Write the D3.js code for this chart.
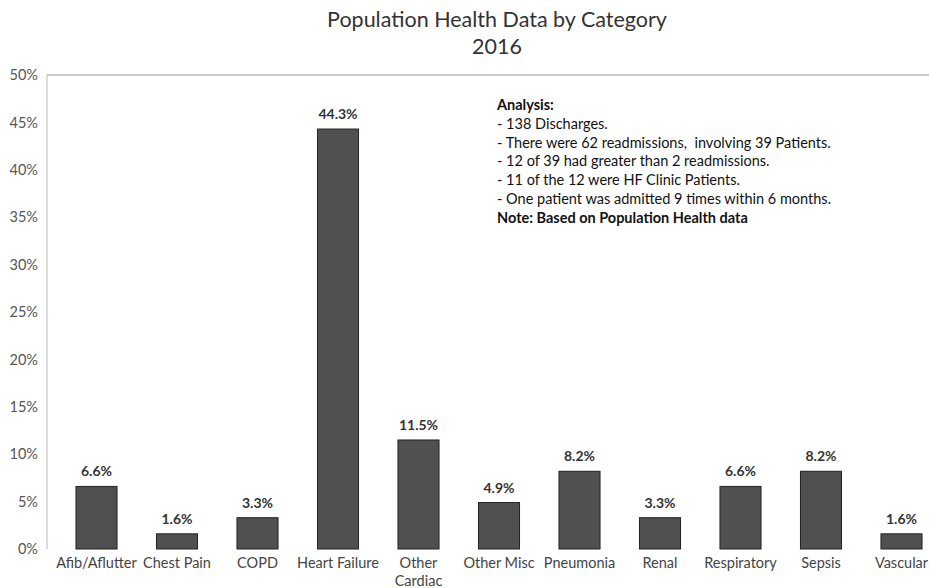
<!DOCTYPE html>
<html>
<head>
<meta charset="utf-8">
<script src="https://cdn.jsdelivr.net/npm/d3@7"></script>
<style>
  body { margin: 0; background: #fff; }
  text { font-family: Lato, "Open Sans", sans-serif; }
</style>
</head>
<body>
<div id="chart"></div>
<script>
const categories = ["Afib/Aflutter", "Chest Pain", "COPD", "Heart Failure", "Other Cardiac",
    "Other Misc", "Pneumonia", "Renal", "Respiratory", "Sepsis", "Vascular"];
const values = [6.6, 1.6, 3.3, 44.3, 11.5, 4.9, 8.2, 3.3, 6.6, 8.2, 1.6];
const yTicks = [0, 5, 10, 15, 20, 25, 30, 35, 40, 45, 50];
const notes = [
    "- 138 Discharges.",
    "- There were 62 readmissions,  involving 39 Patients.",
    "- 12 of 39 had greater than 2 readmissions.",
    "- 11 of the 12 were HF Clinic Patients.",
    "- One patient was admitted 9 times within 6 months."
];

const margin = {top: 75, right: -22, bottom: 39, left: 47},
    width = 929 - margin.left - margin.right,
    height = 588 - margin.top - margin.bottom;

const root = d3.select("#chart")
    .append("svg")
    .attr("width", 929)
    .attr("height", 588);

const svg = root.append("g")
    .attr("transform", `translate(${margin.left},${margin.top})`);

const x = d3.scaleBand()
    .domain(categories)
    .range([0, width])
    .paddingInner(0.49)
    .paddingOuter(0.36);

const y = d3.scaleLinear()
    .domain([0, 50])
    .range([height, 0]);

// title
root.append("text")
    .attr("x", 497).attr("y", 27)
    .attr("text-anchor", "middle")
    .attr("font-size", 21.5)
    .attr("fill", "#333")
    .text("Population Health Data by Category");
root.append("text")
    .attr("x", 497).attr("y", 54)
    .attr("text-anchor", "middle")
    .attr("font-size", 21.5)
    .attr("fill", "#333")
    .text("2016");

// frame lines
svg.append("line")
    .attr("x1", 0).attr("x2", 929 - margin.left)
    .attr("y1", 0).attr("y2", 0)
    .attr("stroke", "#999");
svg.append("line")
    .attr("x1", 0).attr("x2", 0)
    .attr("y1", 0).attr("y2", height)
    .attr("stroke", "#bbb");

// y axis
const yAxis = svg.append("g")
    .call(d3.axisLeft(y).tickValues(yTicks).tickFormat(d => d + "%").tickSize(0).tickPadding(9));
yAxis.select(".domain").remove();
yAxis.selectAll("text")
    .attr("font-size", 14.5)
    .attr("fill", "#555")
    .style("font-family", "Lato, sans-serif");

// x axis
const xAxis = svg.append("g")
    .attr("transform", `translate(0, ${height})`)
    .call(d3.axisBottom(x).tickSize(0).tickPadding(9));
xAxis.select(".domain").remove();
xAxis.selectAll("text")
    .attr("font-size", 14.5)
    .attr("fill", "#444")
    .style("font-family", "Lato, sans-serif")
    .each(function(d) {
        if (d === "Other Cardiac") {
            const t = d3.select(this).text(null);
            d.split(" ").forEach((p, i) => {
                t.append("tspan").attr("x", 0).attr("dy", i === 0 ? "0.71em" : "1.2em").text(p);
            });
            t.attr("dy", null);
        }
    });

// bars
svg.selectAll(".bar")
    .data(values)
    .join("rect")
    .attr("class", "bar")
    .attr("x", (d, i) => x(categories[i]))
    .attr("y", d => y(d))
    .attr("width", x.bandwidth())
    .attr("height", d => height - y(d))
    .attr("fill", "#505050")
    .attr("stroke", "#222")
    .attr("stroke-width", 1);

// value labels
svg.selectAll(".val")
    .data(values)
    .join("text")
    .attr("class", "val")
    .attr("x", (d, i) => x(categories[i]) + x.bandwidth() / 2)
    .attr("y", d => y(d) - 10)
    .attr("text-anchor", "middle")
    .attr("font-size", 14)
    .attr("font-weight", "bold")
    .attr("fill", "#333")
    .text(d => d.toFixed(1) + "%");

// analysis box
const lineGap = 18.8;
const note = root.append("g").attr("transform", "translate(497, 110)");
note.append("text")
    .attr("font-size", 14.5).attr("font-weight", "bold").attr("fill", "#111")
    .text("Analysis:");
note.selectAll(".line")
    .data(notes)
    .join("text")
    .attr("class", "line")
    .attr("y", (d, i) => lineGap * (i + 1))
    .attr("font-size", 14.5).attr("fill", "#111")
    .style("white-space", "pre")
    .text(d => d);
note.append("text")
    .attr("y", lineGap * (notes.length + 1))
    .attr("font-size", 14.5).attr("font-weight", "bold").attr("fill", "#111")
    .text("Note: Based on Population Health data");
</script>
</body>
</html>
